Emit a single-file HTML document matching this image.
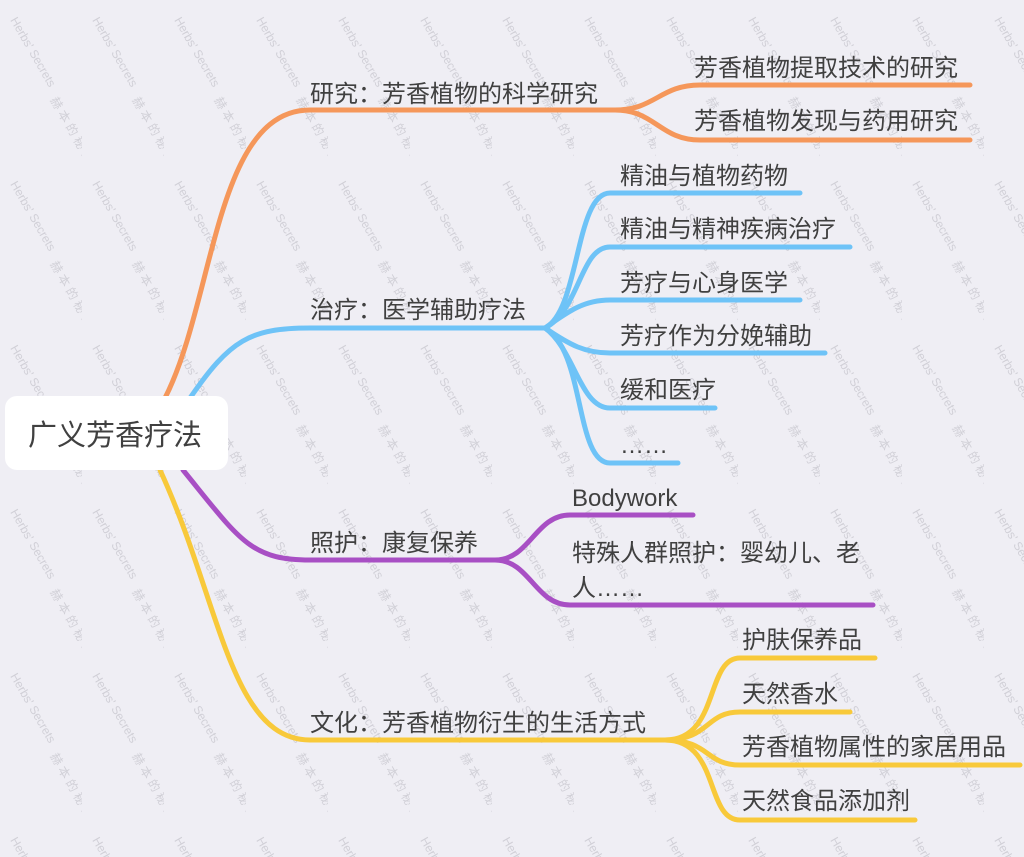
<!DOCTYPE html>
<html><head><meta charset="utf-8"><style>
html,body{margin:0;padding:0;background:#efeef4;}
svg{display:block}
text{font-family:"Liberation Sans","Noto Sans CJK SC",sans-serif;fill:#404040;}
.wm{fill:#c4c3cb;font-size:12px;}
</style></head><body>
<svg width="1024" height="857" viewBox="0 0 1024 857" xmlns="http://www.w3.org/2000/svg">
<defs>
<pattern id="wm" width="82" height="164" patternUnits="userSpaceOnUse">
<text class="wm" transform="translate(10,20) rotate(60)">Herbs' Secrets</text>
<text class="wm" transform="translate(50,100) rotate(60)">赫 本 的 秘 密</text>
</pattern>
</defs>
<rect width="1024" height="857" fill="#efeef4"/>
<rect width="1024" height="857" fill="url(#wm)" opacity="0.7"/>
<g fill="none" stroke-width="5" stroke-linecap="round">
<g stroke="#f5975a">
<path d="M165,398 C215,300 215,110 310,110 L615,110"/>
<path d="M615,110 C655,110 660,85 700,85 L970,85"/>
<path d="M615,110 C655,110 660,140 700,140 L970,140"/>
</g>
<g stroke="#6ec3f7">
<path d="M190,398 C230,340 250,328 310,328 L545,328"/>
<path d="M545,328 C580,310 575,193 610,193 L800,193"/>
<path d="M545,328 C580,310 580,247 610,247 L850,247"/>
<path d="M545,328 C570,310 585,300 610,300 L800,300"/>
<path d="M545,328 C570,345 585,353 610,353 L825,353"/>
<path d="M545,328 C575,350 580,408 610,408 L715,408"/>
<path d="M545,328 C585,350 575,463 610,463 L678,463"/>
</g>
<g stroke="#a84fc4">
<path d="M183,470 C240,540 250,560 310,560 L495,560"/>
<path d="M495,560 C530,560 535,515 570,515 L693,515"/>
<path d="M495,560 C530,560 535,605 570,605 L873,605"/>
</g>
<g stroke="#f8c93a">
<path d="M160,470 C220,600 230,740 310,740 L665,740"/>
<path d="M665,740 C720,740 705,658 740,658 L875,658"/>
<path d="M665,740 C710,740 705,712 740,712 L850,712"/>
<path d="M665,740 C710,740 705,765 740,765 L1020,765"/>
<path d="M665,740 C720,740 705,820 740,820 L915,820"/>
</g>
</g>
<rect x="5" y="396" width="223" height="74" rx="12" fill="#fff"/>
<text x="28" y="445" font-size="29">广义芳香疗法</text>
<g font-size="24">
<text x="310" y="102">研究：芳香植物的科学研究</text>
<text x="694" y="76">芳香植物提取技术的研究</text>
<text x="694" y="129">芳香植物发现与药用研究</text>
<text x="310" y="318">治疗：医学辅助疗法</text>
<text x="620" y="184">精油与植物药物</text>
<text x="620" y="237">精油与精神疾病治疗</text>
<text x="620" y="291">芳疗与心身医学</text>
<text x="620" y="344">芳疗作为分娩辅助</text>
<text x="620" y="398">缓和医疗</text>
<text x="620" y="453">……</text>
<text x="310" y="551">照护：康复保养</text>
<text x="572" y="506">Bodywork</text>
<text x="572" y="561">特殊人群照护：婴幼儿、老</text>
<text x="572" y="596">人……</text>
<text x="310" y="731">文化：芳香植物衍生的生活方式</text>
<text x="742" y="648">护肤保养品</text>
<text x="742" y="702">天然香水</text>
<text x="742" y="755">芳香植物属性的家居用品</text>
<text x="742" y="809">天然食品添加剂</text>
</g>
</svg>
</body></html>
